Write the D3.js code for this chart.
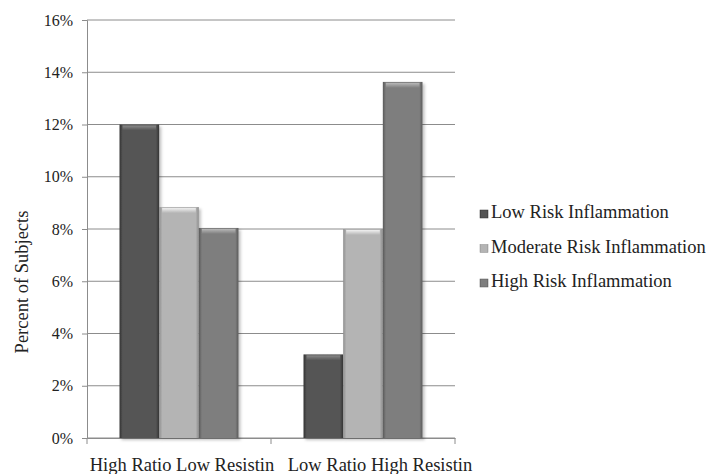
<html>
<head>
  <script src="https://cdn.jsdelivr.net/npm/d3@7"></script>
  <style>
    body { margin: 0; background: #fff; }
  </style>
</head>
<body>
<div id="chart"></div>
<script>
  // data
  const categories = ["High Ratio Low Resistin", "Low Ratio High Resistin"];
  const seriesNames = ["Low Risk Inflammation", "Moderate Risk Inflammation", "High Risk Inflammation"];
  const lowRisk = [0.12, 0.032];
  const moderateRisk = [0.0884, 0.08];
  const highRisk = [0.0804, 0.1363];
  const yTicks = [0, 0.02, 0.04, 0.06, 0.08, 0.10, 0.12, 0.14, 0.16];

  const colors = ["#545454", "#b4b4b4", "#7e7e7e"];
  const edgeColors = ["#333333", "#8e8e8e", "#5a5a5a"];
  const topColors = ["#8a8a8a", "#f0f0f0", "#b8b8b8"];
  const FONT = "'Liberation Serif', Tinos, 'Times New Roman', 'Nimbus Roman', 'DejaVu Serif', serif";

  const W = 708, H = 474;
  const margin = { top: 20, right: 253, bottom: 36, left: 87 };
  const width = W - margin.left - margin.right,
    height = H - margin.top - margin.bottom;

  const svg = d3.select("#chart").append("svg")
    .attr("width", W).attr("height", H)
    .style("font-family", FONT);

  const defs = svg.append("defs");
  colors.forEach((c, i) => {
    const gr = defs.append("linearGradient").attr("id", "bar" + i)
      .attr("x1", 0).attr("x2", 1).attr("y1", 0).attr("y2", 0);
    gr.append("stop").attr("offset", 0).attr("stop-color", edgeColors[i]);
    gr.append("stop").attr("offset", 0.08).attr("stop-color", c);
    gr.append("stop").attr("offset", 0.92).attr("stop-color", c);
    gr.append("stop").attr("offset", 1).attr("stop-color", edgeColors[i]);
    const t = defs.append("linearGradient").attr("id", "top" + i)
      .attr("x1", 0).attr("x2", 0).attr("y1", 0).attr("y2", 1);
    t.append("stop").attr("offset", 0).attr("stop-color", topColors[i]);
    t.append("stop").attr("offset", 1).attr("stop-color", c);
  });
  const f = defs.append("filter").attr("id", "shadow")
    .attr("x", "-20%").attr("y", "-5%").attr("width", "150%").attr("height", "115%");
  f.append("feDropShadow").attr("dx", 2).attr("dy", 2).attr("stdDeviation", 1.5)
    .attr("flood-color", "#000").attr("flood-opacity", 0.25);

  const g = svg.append("g").attr("transform", `translate(${margin.left},${margin.top})`);

  const x = d3.scaleBand().domain(categories).range([0, width]);
  const xs = d3.scaleBand().domain(seriesNames).range([0, x.bandwidth()]).paddingOuter(0.82).paddingInner(0);
  const y = d3.scaleLinear().domain([0, 0.16]).range([height, 0]);

  // gridlines
  g.append("g").selectAll("line").data(yTicks).join("line")
    .attr("x1", 0).attr("x2", width)
    .attr("y1", d => y(d)).attr("y2", d => y(d))
    .attr("stroke", "#8c8c8c").attr("stroke-width", 1);

  // y axis
  const yAxis = g.append("g")
    .call(d3.axisLeft(y).tickValues(yTicks).tickFormat(d3.format(".0%")).tickSize(5).tickPadding(9));
  yAxis.attr("font-family", null);
  yAxis.selectAll("path, line").attr("stroke", "#8c8c8c");
  yAxis.selectAll("text").attr("font-size", 16).attr("fill", "#222");

  // x axis
  const xAxis = g.append("g").attr("transform", `translate(0,${height})`)
    .call(d3.axisBottom(x).tickSize(0).tickFormat(""));
  xAxis.select("path").attr("stroke", "#8c8c8c");
  g.append("g").selectAll("line").data([0, ...categories.map(c => x(c) + x.bandwidth())]).join("line")
    .attr("x1", d => d).attr("x2", d => d)
    .attr("y1", height).attr("y2", height + 6)
    .attr("stroke", "#8c8c8c");

  const labelShift = [3, 17];
  g.append("g").selectAll("text").data(categories).join("text")
    .attr("x", (d, i) => x(d) + x.bandwidth() / 2 + labelShift[i])
    .attr("y", height + 33)
    .attr("text-anchor", "middle")
    .attr("font-size", 18.5)
    .attr("fill", "#222")
    .text(d => d);

  // bars
  const series = [lowRisk, moderateRisk, highRisk];
  series.forEach((vals, i) => {
    const bars = g.append("g").selectAll("g").data(vals).join("g")
      .attr("filter", "url(#shadow)");
    bars.append("rect")
      .attr("x", (d, j) => x(categories[j]) + xs(seriesNames[i]))
      .attr("y", d => y(d))
      .attr("width", xs.bandwidth())
      .attr("height", d => height - y(d))
      .attr("fill", "url(#bar" + i + ")");
    bars.append("rect")
      .attr("x", (d, j) => x(categories[j]) + xs(seriesNames[i]) + 3)
      .attr("y", d => y(d) + 1)
      .attr("width", xs.bandwidth() - 6)
      .attr("height", 5)
      .attr("fill", "url(#top" + i + ")");
  });

  // y title
  svg.append("text")
    .attr("transform", "rotate(-90)")
    .attr("x", -282).attr("y", 28)
    .attr("text-anchor", "middle")
    .attr("font-size", 18.5)
    .attr("fill", "#222")
    .text("Percent of Subjects");

  // legend
  const legend = svg.append("g").attr("transform", "translate(480,0)");
  const ly = [218, 252.5, 287];
  seriesNames.forEach((s, i) => {
    legend.append("rect").attr("x", 0).attr("y", ly[i] - 8).attr("width", 8).attr("height", 8)
      .attr("fill", "url(#bar" + i + ")").attr("stroke", edgeColors[i]).attr("stroke-width", 0.5);
    legend.append("text").attr("x", 11).attr("y", ly[i])
      .attr("font-size", 18.5).attr("fill", "#222").text(s);
  });
</script>
</body>
</html>
